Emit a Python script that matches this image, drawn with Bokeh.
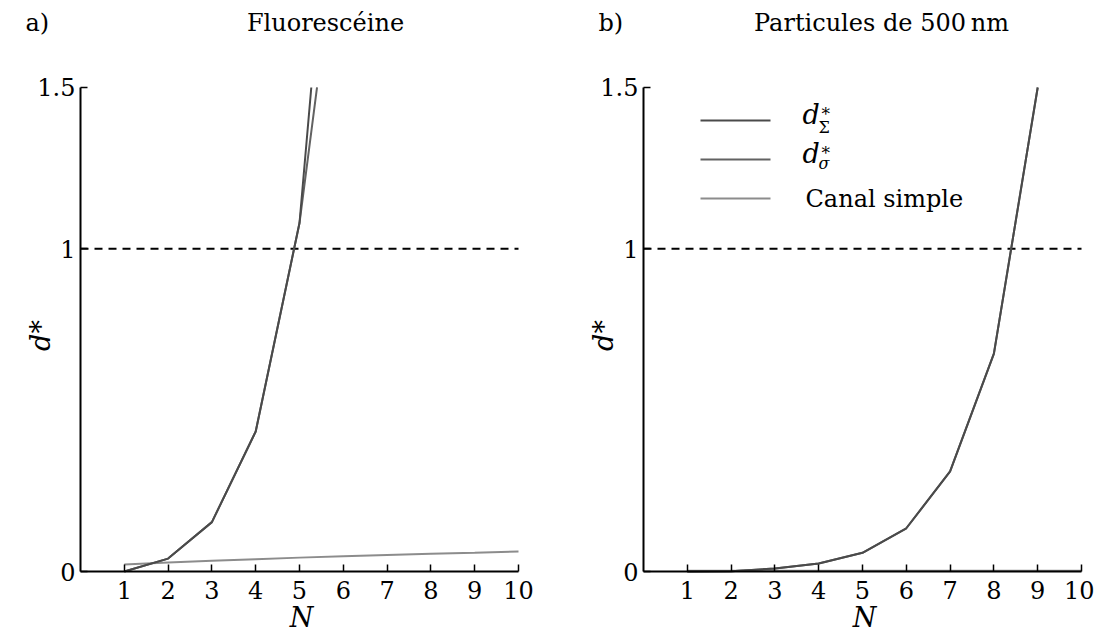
import math
from bokeh.plotting import figure
from bokeh.models import Range1d, FixedTicker, Label, BoxAnnotation
from bokeh.layouts import row
from bokeh.embed import file_html
from bokeh.resources import INLINE

FONT = "DejaVu Serif"

# ---- data ----
N_all = [1, 2, 3, 4, 5, 6, 7, 8, 9, 10]
x_ticks = [1, 2, 3, 4, 5, 6, 7, 8, 9, 10]
y_ticks = [0, 1, 1.5]
y_tick_labels = ["0", "1", "1.5"]
X_MIN, X_MAX = 0, 10
Y_MIN, Y_MAX = 0, 1.5
threshold = 1.0

# a) Fluorescéine
N_fluo_d = [1, 2, 3, 4, 5, 6]
fluo_d_Sigma = [0.0, 0.040, 0.153, 0.434, 1.08, 2.64]
fluo_d_sigma = [0.0, 0.040, 0.153, 0.434, 1.08, 2.13]
fluo_canal = [0.022, 0.028, 0.033, 0.038, 0.043, 0.047, 0.051, 0.055, 0.058, 0.062]

# b) Particules de 500 nm
part_d_Sigma = [0.0, 0.001, 0.009, 0.025, 0.058, 0.134, 0.31, 0.675, 1.5, 3.3]
part_d_sigma = [0.0, 0.001, 0.009, 0.025, 0.058, 0.134, 0.31, 0.675, 1.5, 3.3]
part_canal = [0.002, 0.002, 0.002, 0.002, 0.002, 0.002, 0.002, 0.002, 0.002, 0.002]

titles = ["Fluorescéine", "Particules de 500\u2009nm"]
letters = ["a)", "b)"]
x_label = "N"
legend_labels = ["Canal simple"]

C_SIGMA = "#4a4a4a"
C_sigma = "#626262"
C_CANAL = "#8c8c8c"

H = 634
PX_X = 43.8          # pixels per N unit
PX_Y = 322.67        # pixels per d* unit
AX_BOTTOM = 571      # page y of d*=0


def clip_top(xs, ys, ymax):
    ox, oy = [xs[0]], [ys[0]]
    for i in range(1, len(xs)):
        if ys[i] <= ymax:
            ox.append(xs[i]); oy.append(ys[i])
        else:
            t = (ymax - ys[i - 1]) / (ys[i] - ys[i - 1])
            ox.append(xs[i - 1] + t * (xs[i] - xs[i - 1])); oy.append(ymax)
            break
    return ox, oy


def make_fig(width, ax_left):
    x0 = -ax_left / PX_X
    x1 = X_MAX + (width - ax_left - X_MAX * PX_X) / PX_X
    y0 = -(H - AX_BOTTOM) / PX_Y
    y1 = AX_BOTTOM / PX_Y
    p = figure(width=width, height=H, output_backend="svg", toolbar_location=None,
               x_range=Range1d(x0, x1), y_range=Range1d(y0, y1),
               min_border=0)
    p.outline_line_color = None
    p.xgrid.visible = False
    p.ygrid.visible = False
    for ax in (p.xaxis[0], p.yaxis[0]):
        ax.fixed_location = 0
        ax.axis_line_color = "black"
        ax.axis_line_width = 2
        ax.major_tick_line_color = "black"
        ax.major_tick_line_width = 1.5
        ax.major_tick_in = 7
        ax.major_tick_out = 0
        ax.minor_tick_line_color = None
        ax.major_label_text_font = FONT
        ax.major_label_text_font_size = "24px"
        ax.major_label_text_color = "black"
    p.xaxis[0].bounds = (X_MIN, X_MAX)
    p.yaxis[0].bounds = (Y_MIN, Y_MAX)
    p.xaxis[0].ticker = FixedTicker(ticks=x_ticks)
    p.xaxis[0].major_label_standoff = 9
    p.yaxis[0].ticker = FixedTicker(ticks=y_ticks)
    p.yaxis[0].major_label_overrides = {t: l for t, l in zip(y_ticks, y_tick_labels)}
    p.yaxis[0].major_label_standoff = 5
    p.segment(x0=[X_MIN], x1=[X_MAX], y0=[threshold], y1=[threshold],
              line_color="black", line_width=2, line_dash="8 6")
    return p


def add_texts(p, ylab_x, xlab_x, letter, letter_x, title, title_x):
    p.add_layout(Label(x=ylab_x, y=H - 335, x_units="screen", y_units="screen", text="d*",
                       angle=math.pi / 2, text_align="center", text_baseline="middle",
                       text_font=FONT, text_font_style="italic", text_font_size="27px",
                       text_color="black"))
    p.add_layout(Label(x=xlab_x, y=H - 617, x_units="screen", y_units="screen", text=x_label,
                       text_align="center", text_baseline="middle",
                       text_font=FONT, text_font_style="italic", text_font_size="27px",
                       text_color="black"))
    p.add_layout(Label(x=letter_x, y=H - 22, x_units="screen", y_units="screen", text=letter,
                       text_align="left", text_baseline="middle", text_font=FONT,
                       text_font_size="24px", text_color="black"))
    p.add_layout(Label(x=title_x, y=H - 22, x_units="screen", y_units="screen", text=title,
                       text_align="center", text_baseline="middle", text_font=FONT,
                       text_font_size="24px", text_color="black"))


# ---- panel a ----
p1 = make_fig(559, 80)
xs, ys = clip_top(N_all, fluo_canal, Y_MAX)
p1.line(xs, ys, line_color=C_CANAL, line_width=2)
xs, ys = clip_top(N_fluo_d, fluo_d_sigma, Y_MAX)
p1.line(xs, ys, line_color=C_sigma, line_width=2)
xs, ys = clip_top(N_fluo_d, fluo_d_Sigma, Y_MAX)
p1.line(xs, ys, line_color=C_SIGMA, line_width=2)
add_texts(p1, 40, 301, letters[0], 25, titles[0], 325)

# ---- panel b ----
p2 = make_fig(535, 84)
xs, ys = clip_top(N_all, part_canal, Y_MAX)
p2.line(xs, ys, line_color=C_CANAL, line_width=2)
xs, ys = clip_top(N_all, part_d_sigma, Y_MAX)
p2.line(xs, ys, line_color=C_sigma, line_width=2)
xs, ys = clip_top(N_all, part_d_Sigma, Y_MAX)
p2.line(xs, ys, line_color=C_SIGMA, line_width=2)
add_texts(p2, 44, 305, letters[1], 39, titles[1], 322)

# ---- manual legend (canvas pixel coordinates) ----
leg_x0, leg_x1 = 141, 211
line_y = [120, 159, 198]
colors = [C_SIGMA, C_sigma, C_CANAL]
for yy, c in zip(line_y, colors):
    p2.add_layout(BoxAnnotation(left=leg_x0, right=leg_x1, bottom=H - yy - 1, top=H - yy + 1,
                                left_units="screen", right_units="screen",
                                bottom_units="screen", top_units="screen",
                                fill_color=c, fill_alpha=1, line_color=None))

subs = ["\u03a3", "\u03c3"]
for i, sub in enumerate(subs):
    ly = line_y[i]
    p2.add_layout(Label(x=243, y=H - (ly - 6), x_units="screen", y_units="screen", text="d",
                        text_align="left", text_baseline="middle", text_font=FONT,
                        text_font_style="italic", text_font_size="27px", text_color="black"))
    p2.add_layout(Label(x=262, y=H - (ly - 7), x_units="screen", y_units="screen", text="*",
                        text_align="left", text_baseline="middle", text_font=FONT,
                        text_font_size="17px", text_color="black"))
    p2.add_layout(Label(x=259, y=H - (ly + 7 if i == 0 else ly + 4), x_units="screen",
                        y_units="screen", text=sub,
                        text_align="left", text_baseline="middle", text_font=FONT,
                        text_font_style="italic" if i == 1 else "normal",
                        text_font_size="16px", text_color="black"))
p2.add_layout(Label(x=246, y=H - line_y[2], x_units="screen", y_units="screen",
                    text=legend_labels[0], text_align="left", text_baseline="middle",
                    text_font=FONT, text_font_size="24px", text_color="black"))

layout = row(p1, p2)
open("out.html", "w").write(file_html(layout, INLINE))
